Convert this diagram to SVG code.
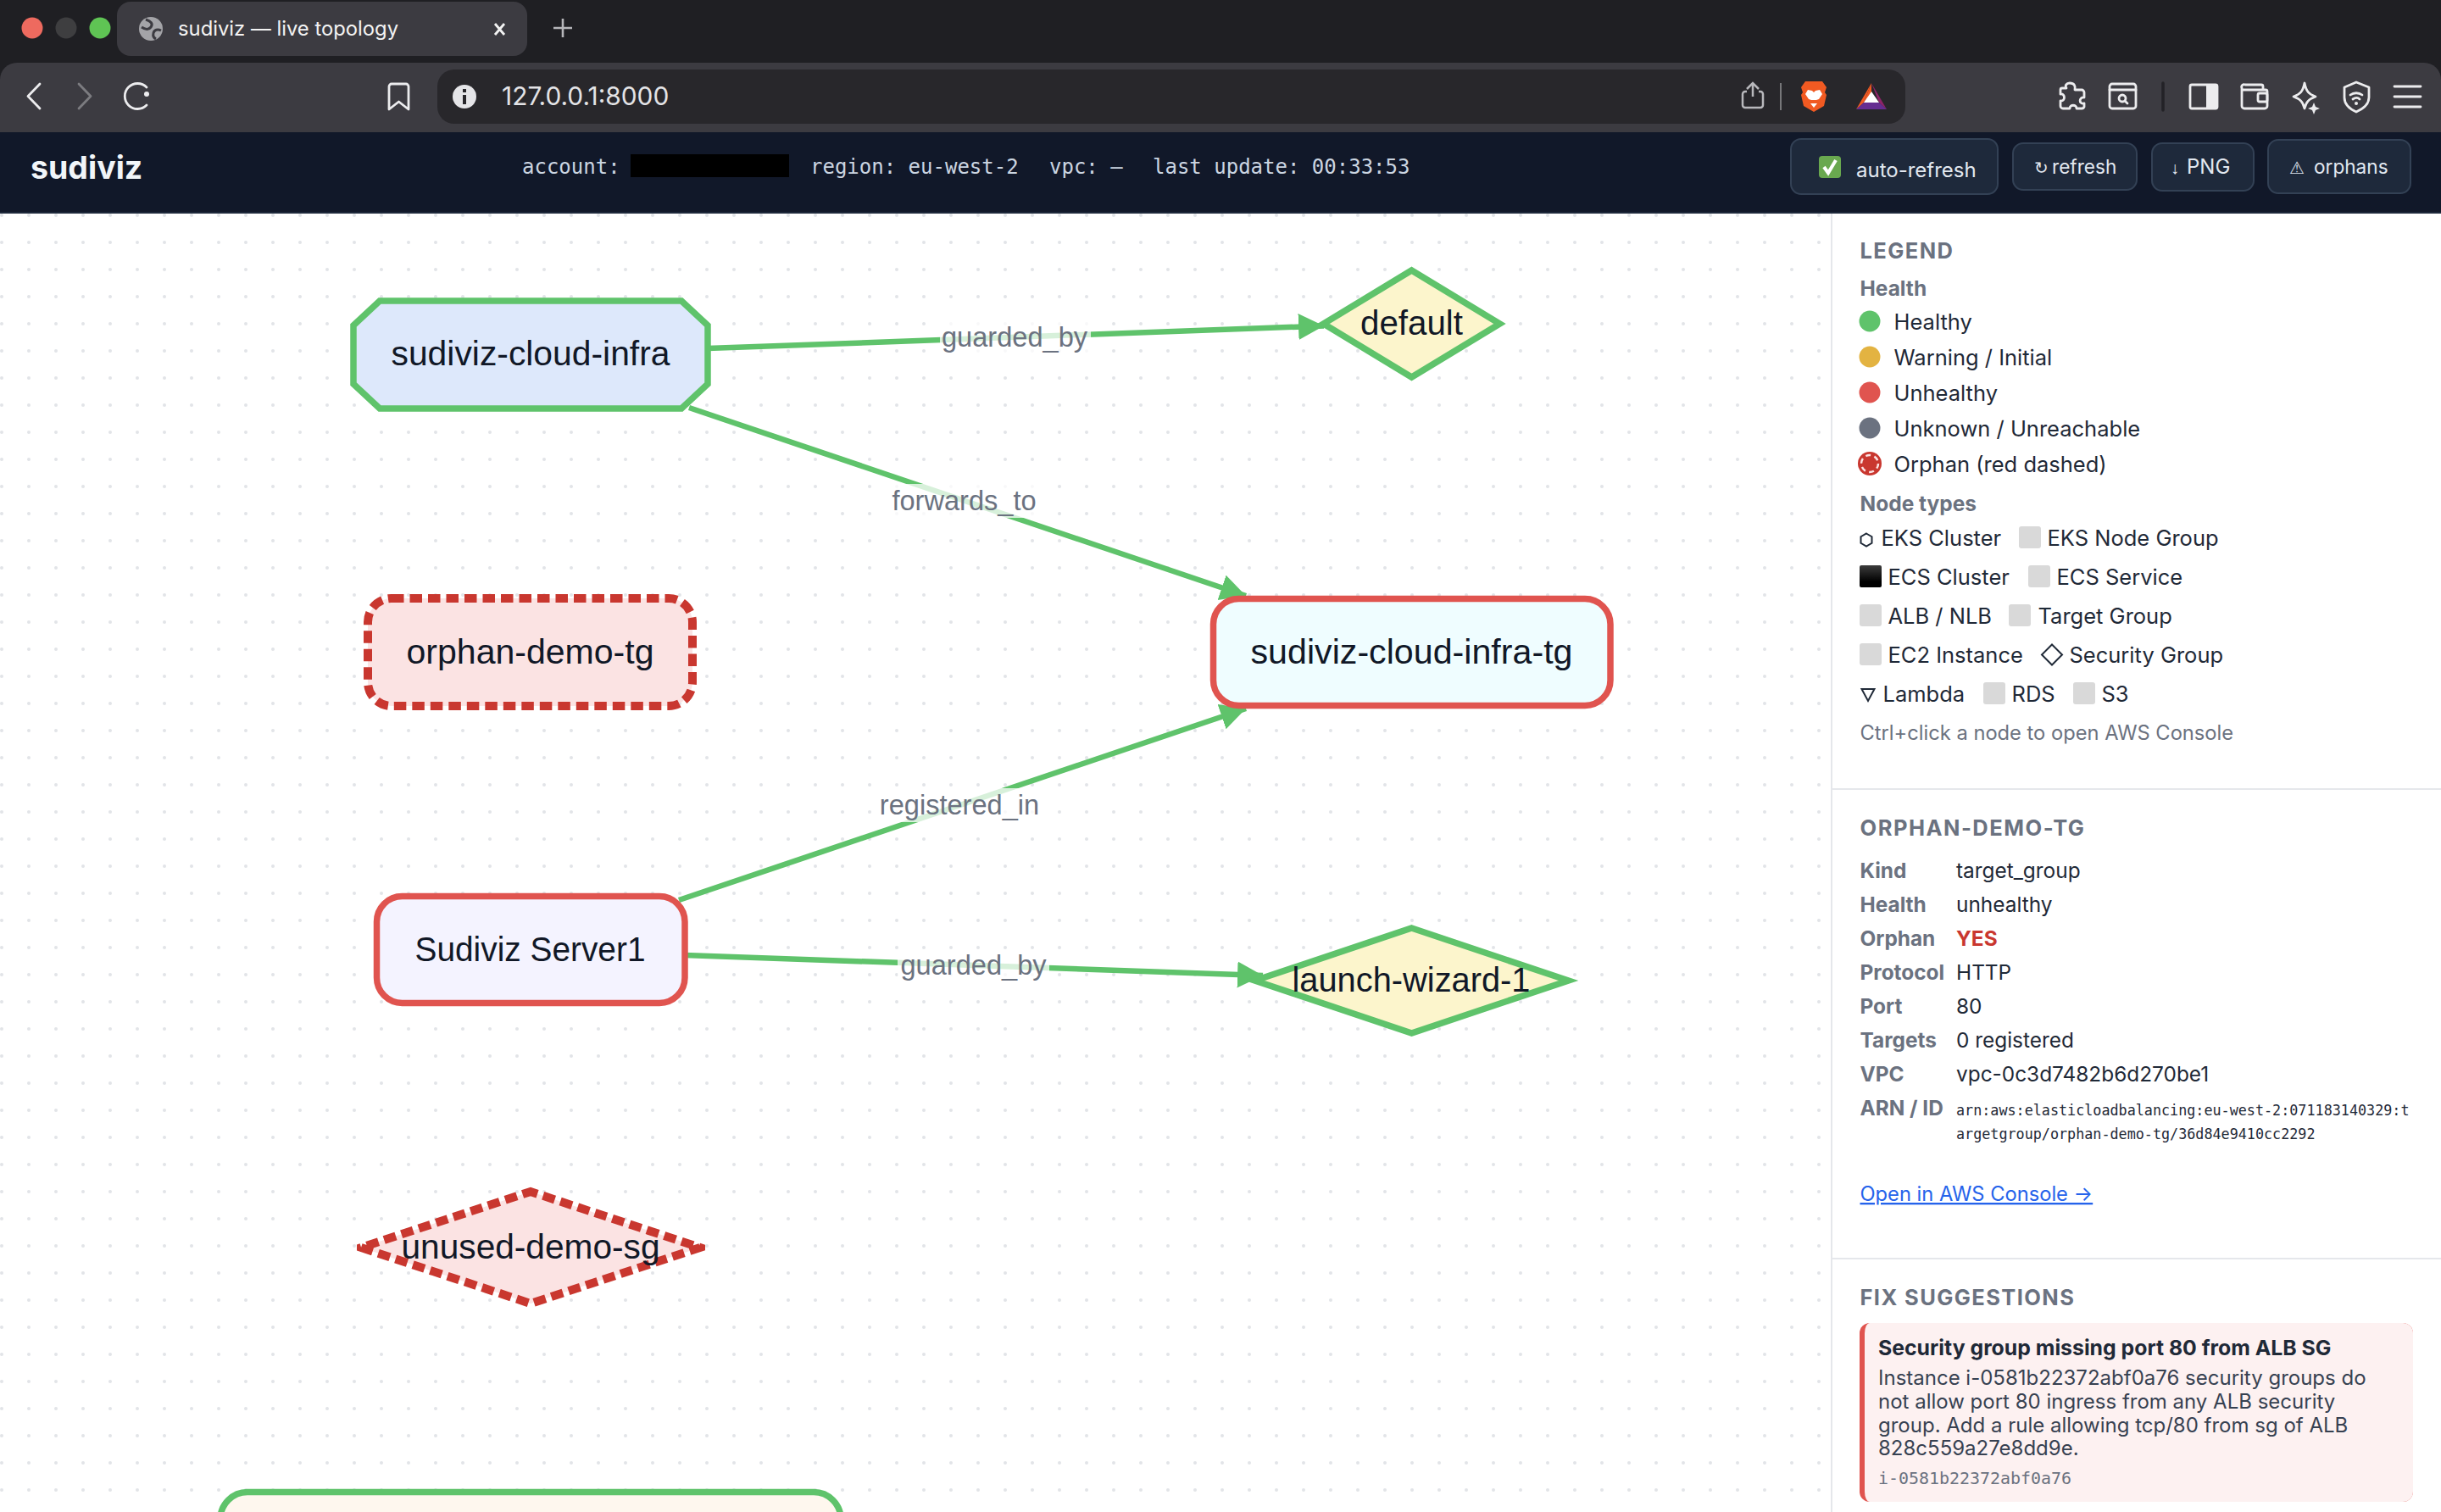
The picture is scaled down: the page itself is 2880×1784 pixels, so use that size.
<svg xmlns="http://www.w3.org/2000/svg" width="2880" height="1784" viewBox="0 0 2880 1784">
<style>
text{font-family:Inter,"Noto Sans","DejaVu Sans",sans-serif;white-space:pre}
.mono{font-family:"DejaVu Sans Mono","Liberation Mono",monospace}
.hdr{font-size:24px;fill:#cbd5e1}
.btn{fill:#1e293b;stroke:#334155;stroke-width:2}
.btxt{font-size:22.6px;fill:#e2e8f0}
.bsym{font-family:"DejaVu Sans",sans-serif;font-size:20px;fill:#e2e8f0}
.ic{fill:none;stroke:#ececee;stroke-width:2.8;stroke-linecap:round;stroke-linejoin:round}
.h2{font-size:25.5px;font-weight:700;fill:#6b7280;letter-spacing:1.4px}
.h3{font-size:24.5px;font-weight:700;fill:#6b7280}
.li{font-size:25.5px;fill:#1f2937}
.sq{fill:#d9d9d9}
.k{font-size:24.4px;font-weight:700;fill:#6b7280}
.v{font-size:24.4px;fill:#1f2937}
.sym{fill:none;stroke:#1f2937;stroke-width:2}
.nl{font-family:"Liberation Sans",Arial,sans-serif;font-size:40.5px;fill:#111827;text-anchor:middle}
.el{font-family:"Liberation Sans",Arial,sans-serif;font-size:32.6px;fill:#6b7280;text-anchor:middle}
.edge{fill:none;stroke:#5fc36b;stroke-width:6.5;marker-end:url(#arrow)}
.lb{fill:#fff;opacity:.75}
.gn{stroke:#5fc36b;stroke-width:7.5}
.rd{stroke:#e0544f;stroke-width:7.5}
.or{stroke:#c9372f;stroke-width:10;stroke-dasharray:14.5 7}
.body{font-size:24px;fill:#374151}
</style>
<defs>
<pattern id="dots" x="2" y="30" width="32" height="32" patternUnits="userSpaceOnUse"><circle cx="0" cy="0" r="2" fill="#e2e4e8"/><circle cx="32" cy="0" r="2" fill="#e2e4e8"/><circle cx="0" cy="32" r="2" fill="#e2e4e8"/><circle cx="32" cy="32" r="2" fill="#e2e4e8"/></pattern>
<marker id="arrow" markerUnits="userSpaceOnUse" markerWidth="32" markerHeight="32" refX="30" refY="15.5" orient="auto"><path d="M0 0 L30 15.5 L0 31 Z" fill="#5fc36b"/></marker>
<linearGradient id="blk" x1="0" y1="0" x2="0" y2="1"><stop offset="0" stop-color="#3c3c3c"/><stop offset=".75" stop-color="#000"/></linearGradient>
<clipPath id="sgclip"><rect x="421" y="1400" width="411" height="144"/></clipPath>
</defs>

<rect width="2880" height="1784" fill="#fff"/>

<g id="browser-chrome">
<rect width="2880" height="156" fill="#1f1f23"/>
<path d="M0 156V94a20 20 0 0 1 20-20H2860a20 20 0 0 1 20 20V156Z" fill="#3c3b41"/>
<circle cx="38" cy="33" r="12.5" fill="#ee6a5f"/><circle cx="78" cy="33" r="12.5" fill="#3e3e40"/><circle cx="118" cy="33" r="12.5" fill="#5fc454"/>
<rect x="138" y="2" width="484" height="64" rx="16" fill="#3c3b41"/>
<circle cx="178" cy="34" r="14" fill="#a4a4a8"/>
<path d="M172 23c6 2 9 5 6 9s-8 2-11 0M190 36c-4-2-8-1-9 3s1 6 3 7" fill="none" stroke="#3c3b41" stroke-width="3"/>
<text x="210" y="42" font-size="23.800" fill="#f2f2f2">sudiviz — live topology</text>
<path d="M584 28l11 13M595 28l-11 13" fill="none" stroke="#f2f2f2" stroke-width="2.8"/>
<path d="M664 22v22M653 33h22" fill="none" stroke="#b6b6ba" stroke-width="2.6"/>
<path class="ic" d="M47 99L33 113.500L47 128"/>
<path class="ic" d="M93 99L107 113.500L93 128" style="stroke:#7c7c80"/>
<path class="ic" d="M173 103a15 15 0 1 0 0 21"/><circle cx="173" cy="111" r="3" fill="#ececee"/>
<path class="ic" d="M459 102a3 3 0 0 1 3-3h17a3 3 0 0 1 3 3v27l-11.500-9-11.500 9Z"/>
<rect x="516" y="82" width="1732" height="64" rx="20" fill="#28272b"/>
<circle cx="548" cy="114" r="14" fill="#e5e5e8"/><rect x="546" y="112" width="4" height="11" fill="#28272b"/><rect x="546" y="105" width="4" height="4" fill="#28272b"/>
<text x="592" y="124" font-size="29.900" fill="#e3e3e6">127.0.0.1:8000</text>
<path d="M2068 114V99M2061 105l7-7 7 7M2061 108h-2a3 3 0 0 0-3 3v13a3 3 0 0 0 3 3h18a3 3 0 0 0 3-3v-13a3 3 0 0 0-3-3h-2" fill="none" stroke="#b8b8bc" stroke-width="2.500"/>
<path d="M2101 98v32" stroke="#77777a" stroke-width="2"/>
<path d="M2130 96h20l5 7-2 6 2 3-3 13-12 7-12-7-3-13 2-3-2-6Z" fill="#f15a22"/>
<path d="M2133 106l5 1 2 2l2-2l5-1 3 5-4 6-3 1h-6l-3-1-4-6Z M2136 122h8l-4 5Z" fill="#fff"/>
<path d="M2208 98L2190 129L2199 121Z" fill="#f15a22"/><path d="M2208 98L2226 129L2217 121Z" fill="#8f2469"/><path d="M2190 129H2226L2217 121H2199Z" fill="#662d91"/><path d="M2208 98L2199 121H2208Z" fill="#f15a22"/><path d="M2208 108L2199 121H2217Z" fill="#fff"/>
<path class="ic" d="M2442 98c5 0 7 3 6 8h8a3 3 0 0 1 3 3v6c-6-1-7 8 0 7v4a3 3 0 0 1-3 2h-6c0-5-8-5-8 0h-8a3 3 0 0 1-3-3v-6c6 1 6-9 0-8v-5a2 2 0 0 1 2-2h5c-2-3 0-6 4-6Z"/>
<rect class="ic" x="2489" y="99" width="31" height="29" rx="3"/><path class="ic" d="M2489 106h31"/><circle class="ic" cx="2504" cy="116" r="4"/><path class="ic" d="M2507 119l3 3"/>
<path d="M2552 98v32" stroke="#222226" stroke-width="3.500" stroke-linecap="round"/>
<rect class="ic" x="2584" y="100" width="32" height="28" rx="2"/><rect x="2603" y="100" width="13" height="28" fill="#ececee"/>
<path class="ic" d="M2670 106v-4a2 2 0 0 0-2-2h-19a3 3 0 0 0-4 4v21a3 3 0 0 0 3 3h24a3 3 0 0 0 3-3v-17a2 2 0 0 0-2-2h-27"/><rect class="ic" x="2664" y="110" width="11" height="10" rx="2"/>
<path class="ic" d="M2719 98c2 10 5 13 13 16-8 3-11 6-13 14-2-8-5-11-13-14 8-3 11-6 13-16Z"/><path d="M2730 121l2 5 5 2-5 2-2 5-2-5-5-2 5-2Z" fill="#ececee"/>
<path class="ic" d="M2780 97l15 6v12c0 8-6 13-15 17-9-4-14-9-14-17v-12Z"/><path class="ic" d="M2773 112c4-3 10-3 14 0M2776 117c3-2 6-2 8 0"/><circle cx="2780" cy="122" r="2" fill="#ececee"/>
<path class="ic" d="M2825 102h31M2825 114h31M2825 126h31"/>
</g>

<g id="app-header">
<rect y="156" width="2880" height="94" fill="#111829"/><rect y="250" width="2880" height="2" fill="#1e293b"/>
<text x="36" y="211" font-size="37.500" font-weight="700" fill="#f1f5f9">sudiviz</text>
<text class="mono hdr" x="616" y="205">account:</text>
<rect x="744" y="182" width="187" height="27" fill="#000"/>
<text class="mono hdr" x="956" y="205">region: eu-west-2</text>
<text class="mono hdr" x="1238" y="205">vpc: —</text>
<text class="mono hdr" x="1360" y="205">last update: 00:33:53</text>
<rect class="btn" x="2113" y="164" width="244" height="65" rx="12"/>
<rect x="2146" y="184" width="26" height="26" rx="4" fill="#69a84f"/><path d="M2152 197l5 7 9-15" fill="none" stroke="#fff" stroke-width="4"/>
<text class="btxt" x="2190" y="209" style="font-size:24px">auto-refresh</text>
<rect class="btn" x="2375" y="169" width="146" height="55" rx="12"/>
<text class="bsym" x="2400" y="205">↻</text><text class="btxt" x="2421" y="205">refresh</text>
<rect class="btn" x="2539" y="169" width="120" height="56" rx="12"/>
<text class="bsym" x="2561" y="205" style="font-family:'Liberation Sans',sans-serif">↓</text><text class="btxt" x="2580" y="205" style="font-size:24px">PNG</text>
<rect class="btn" x="2676" y="165" width="168" height="63" rx="12"/>
<text class="bsym" x="2701" y="205">⚠</text><text class="btxt" x="2730" y="205">orphans</text>
</g>

<rect id="canvas" y="252" width="2160" height="1532" fill="url(#dots)"/>

<g id="connectors">
<path class="edge" d="M835 411.100L1562 384.500"/>
<path class="edge" d="M813 481L1470 703"/>
<path class="edge" d="M801 1062L1470 836"/>
<path class="edge" d="M808 1127L1490 1151"/>
<rect class="lb" x="1109" y="379" width="178" height="40"/><text class="el" x="1197" y="409">guarded_by</text>
<rect class="lb" x="1048" y="571" width="179" height="40"/><text class="el" x="1137.500" y="602">forwards_to</text>
<rect class="lb" x="1036" y="930" width="192" height="40"/><text class="el" x="1132" y="961">registered_in</text>
<rect class="lb" x="1059" y="1120" width="179" height="40"/><text class="el" x="1148.500" y="1150">guarded_by</text>
</g>

<g id="node-sudiviz-cloud-infra"><path class="gn" fill="#dde8fb" d="M448 355H804L835 384V453L804 482H448L417 453V384Z"/><text class="nl" x="626" y="431" textLength="329" lengthAdjust="spacingAndGlyphs">sudiviz-cloud-infra</text></g>
<g id="node-default"><path class="gn" fill="#fcf5cc" d="M1665.500 319L1769.500 382L1665.500 445L1561.500 382Z"/><text class="nl" x="1665.500" y="395" textLength="121" lengthAdjust="spacingAndGlyphs">default</text></g>
<g id="node-orphan-demo-tg"><rect class="or" x="434" y="706" width="383" height="127" rx="28" fill="#fbe3e3"/><text class="nl" x="625.500" y="783" textLength="292" lengthAdjust="spacingAndGlyphs">orphan-demo-tg</text></g>
<g id="node-sudiviz-cloud-infra-tg"><rect class="rd" x="1431.500" y="706.500" width="468.500" height="126" rx="30" fill="#effdff"/><text class="nl" x="1665.500" y="783" textLength="380" lengthAdjust="spacingAndGlyphs">sudiviz-cloud-infra-tg</text></g>
<g id="node-sudiviz-server1"><rect class="rd" x="444.500" y="1057.500" width="363.500" height="126" rx="30" fill="#f4f3ff"/><text class="nl" x="625.500" y="1134" textLength="272" lengthAdjust="spacingAndGlyphs">Sudiviz Server1</text></g>
<g id="node-launch-wizard-1"><path class="gn" fill="#fcf5cc" d="M1665.500 1095L1850.500 1157L1665.500 1219L1480.500 1157Z"/><text class="nl" x="1665" y="1170" textLength="281" lengthAdjust="spacingAndGlyphs">launch-wizard-1</text></g>
<g id="node-unused-demo-sg"><path class="or" fill="#fbe3e3" clip-path="url(#sgclip)" stroke-dashoffset="6" style="stroke-dashoffset:6" d="M626 1406L826 1472L626 1538L426 1472Z"/><text class="nl" x="626" y="1485" textLength="305" lengthAdjust="spacingAndGlyphs">unused-demo-sg</text></g>
<g id="node-bottom"><rect class="gn" x="260" y="1760.500" width="732" height="80" rx="32" fill="#fef7ee"/></g>

<g id="side-panel">
<rect x="2160" y="252" width="720" height="1532" fill="#fff"/>
<rect x="2160" y="252" width="2" height="1532" fill="#e5e7eb"/>
<text class="h2" x="2194.500" y="305">LEGEND</text>
<text class="h3" x="2194.500" y="349">Health</text>
<circle cx="2206" cy="379" r="12.500" fill="#5fc36b"/><text class="li" x="2234.500" y="389">Healthy</text>
<circle cx="2206" cy="421" r="12.500" fill="#e3b341"/><text class="li" x="2234.500" y="431">Warning / Initial</text>
<circle cx="2206" cy="463" r="12.500" fill="#e0544f"/><text class="li" x="2234.500" y="473">Unhealthy</text>
<circle cx="2206" cy="505" r="12.500" fill="#6b7280"/><text class="li" x="2234.500" y="515">Unknown / Unreachable</text>
<circle cx="2206" cy="547" r="14" fill="#c9372f"/><circle cx="2206" cy="547" r="10" fill="none" stroke="#fbe3e3" stroke-width="2.500" stroke-dasharray="6 4.500"/>
<text class="li" x="2234.500" y="557">Orphan (red dashed)</text>
<text class="h3" x="2194.500" y="603">Node types</text>

<path class="sym" d="M2202 629.500l6.500 3.750v7.500L2202 644.500l-6.500-3.750v-7.500Z"/><text class="li" x="2219.500" y="644">EKS Cluster</text>
<rect class="sq" x="2382" y="621" width="26" height="26" rx="3"/><text class="li" x="2415.500" y="644">EKS Node Group</text>
<rect x="2194" y="667" width="26" height="26" rx="2" fill="url(#blk)"/><text class="li" x="2227.500" y="690">ECS Cluster</text>
<rect class="sq" x="2393" y="667" width="26" height="26" rx="3"/><text class="li" x="2426.500" y="690">ECS Service</text>
<rect class="sq" x="2194" y="713" width="26" height="26" rx="3"/><text class="li" x="2227.500" y="736">ALB / NLB</text>
<rect class="sq" x="2370" y="713" width="26" height="26" rx="3"/><text class="li" x="2404.500" y="736">Target Group</text>
<rect class="sq" x="2194" y="759" width="26" height="26" rx="3"/><text class="li" x="2227.500" y="782">EC2 Instance</text>
<path class="sym" d="M2421 760.500L2433 772.500L2421 784.500L2409 772.500Z"/><text class="li" x="2441.500" y="782">Security Group</text>
<path class="sym" d="M2196.500 813H2211.500L2204 827Z"/><text class="li" x="2221.500" y="828">Lambda</text>
<rect class="sq" x="2340" y="805" width="26" height="26" rx="3"/><text class="li" x="2373.500" y="828">RDS</text>
<rect class="sq" x="2446" y="805" width="26" height="26" rx="3"/><text class="li" x="2479.500" y="828">S3</text>
<text x="2194.500" y="873" font-size="23.700" fill="#6b7280">Ctrl+click a node to open AWS Console</text>

<rect x="2162" y="930" width="718" height="2" fill="#e5e7eb"/>
<text class="h2" x="2194.500" y="986" style="letter-spacing:1.5px">ORPHAN-DEMO-TG</text>
<text class="k" x="2194.500" y="1035.500">Kind</text><text class="v" x="2308" y="1035.500">target_group</text>
<text class="k" x="2194.500" y="1075.500">Health</text><text class="v" x="2308" y="1075.500">unhealthy</text>
<text class="k" x="2194.500" y="1115.500">Orphan</text><text class="v" x="2308" y="1115.500" style="fill:#c9372f;font-weight:700">YES</text>
<text class="k" x="2194.500" y="1155.500">Protocol</text><text class="v" x="2308" y="1155.500">HTTP</text>
<text class="k" x="2194.500" y="1195.500">Port</text><text class="v" x="2308" y="1195.500">80</text>
<text class="k" x="2194.500" y="1235.500">Targets</text><text class="v" x="2308" y="1235.500">0 registered</text>
<text class="k" x="2194.500" y="1275.500">VPC</text><text class="v" x="2308" y="1275.500">vpc-0c3d7482b6d270be1</text>
<text class="k" x="2194.500" y="1315.500">ARN / ID</text>
<text class="mono" x="2308" y="1316" font-size="16.750" fill="#1f2937">arn:aws:elasticloadbalancing:eu-west-2:071183140329:t</text>
<text class="mono" x="2308" y="1344" font-size="16.750" fill="#1f2937">argetgroup/orphan-demo-tg/36d84e9410cc2292</text>
<text x="2194.500" y="1417" font-size="23.700" fill="#2563eb" text-decoration="underline">Open in AWS Console →</text>

<rect x="2162" y="1484" width="718" height="2" fill="#e5e7eb"/>
<text class="h2" x="2194.500" y="1539.500">FIX SUGGESTIONS</text>
<rect x="2194" y="1561" width="653" height="211" rx="12" fill="#e0544f"/>
<path d="M2206 1561H2835a12 12 0 0 1 12 12V1760a12 12 0 0 1-12 12H2206a6 12 0 0 1-6-12V1573a6 12 0 0 1 6-12Z" fill="#fdf1f1"/>
<text x="2216" y="1599" font-size="24.800" font-weight="700" fill="#1f2937">Security group missing port 80 from ALB SG</text>
<text class="body" x="2216" y="1634">Instance i-0581b22372abf0a76 security groups do</text>
<text class="body" x="2216" y="1662">not allow port 80 ingress from any ALB security</text>
<text class="body" x="2216" y="1690">group. Add a rule allowing tcp/80 from sg of ALB</text>
<text class="body" x="2216" y="1717">828c559a27e8dd9e.</text>
<text class="mono" x="2216" y="1751" font-size="19.950" fill="#6b7280">i-0581b22372abf0a76</text>
</g>
</svg>
